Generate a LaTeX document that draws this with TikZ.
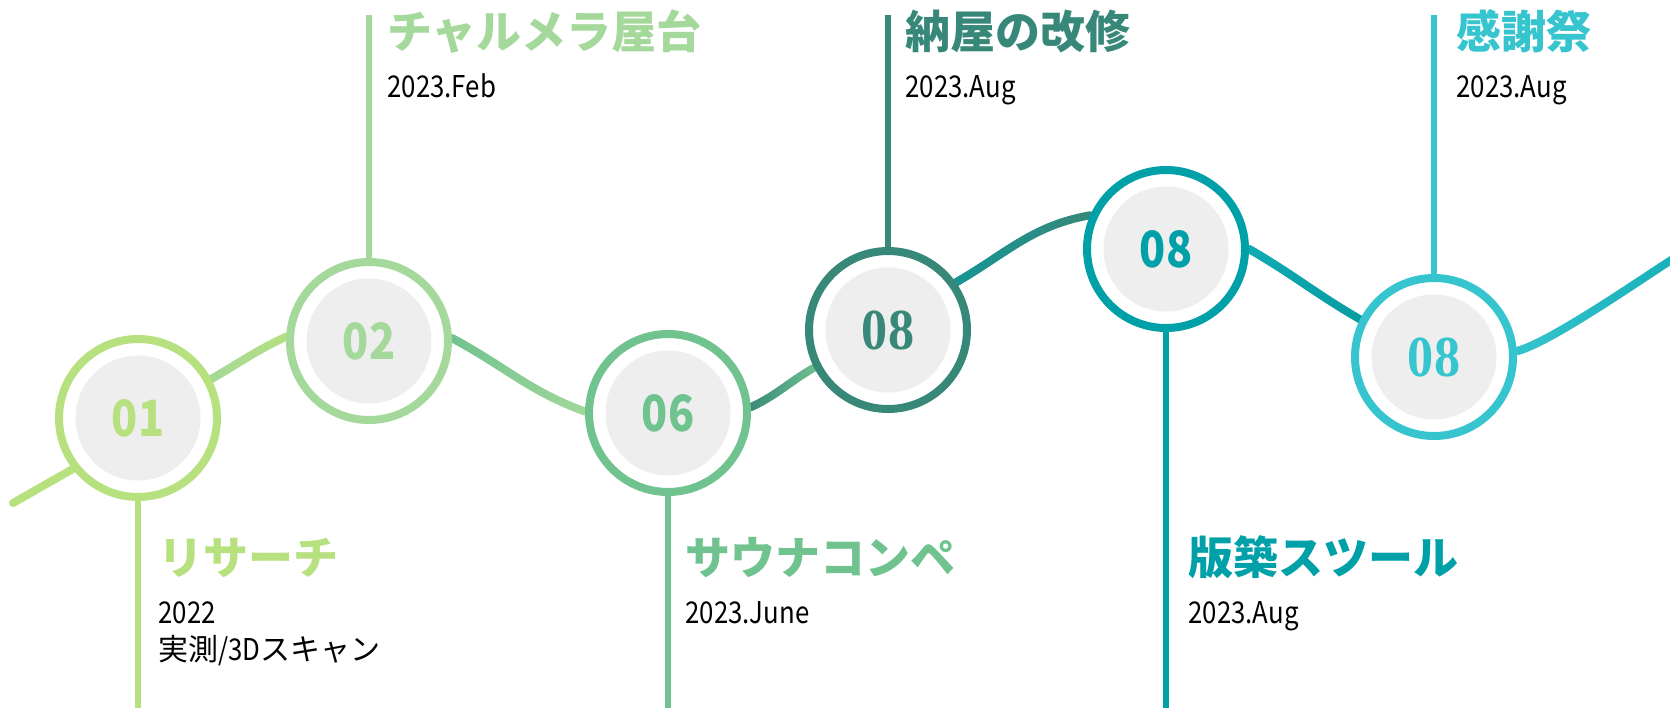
\documentclass[tikz,border=0pt]{standalone}
\usepackage{fontspec}
\usetikzlibrary{fadings,backgrounds}
\setmainfont{Noto Sans CJK JP}
\newfontfamily\jpfont{Noto Sans CJK JP}
\newfontfamily\condfont[FakeStretch=0.86]{Noto Sans CJK JP}
\newfontfamily\serfont[FakeStretch=0.9]{Liberation Serif}
\definecolor{colA}{HTML}{B7E07F}
\definecolor{colB}{HTML}{A4D99B}
\definecolor{colC}{HTML}{70C28F}
\definecolor{colD}{HTML}{38887A}
\definecolor{colE}{HTML}{00A0A8}
\definecolor{colF}{HTML}{36C5CF}
\definecolor{ringgray}{HTML}{EEEEEE}

\begin{document}
\begin{tikzpicture}[x=0.5pt,y=-0.5pt,
    ring/.style={circle, draw=#1, line width=4pt, fill=white, minimum size=79pt, text=#1,
        font=\condfont\bfseries\fontsize{25pt}{25pt}\selectfont,
        path picture={\fill[ringgray] (path picture bounding box.center) circle (31.25pt);}},
    serifnum/.style={font=\serfont\bfseries\fontsize{29pt}{29pt}\selectfont},
    stem/.style={draw=#1, line width=3pt},
    wave/.style={line width=4pt, line cap=round},
    title/.style={anchor=base west, text=#1, font=\bfseries\fontsize{22.5pt}{27pt}\selectfont},
    date/.style={anchor=base west, font=\condfont\fontsize{15pt}{18pt}\selectfont}]
    \tikzstyle{every node}+=[inner sep=0pt]
    \useasboundingbox (0,0) rectangle (1670,707);
    \node[ring=colA] (c1) at (138,418) {01};
    \node[ring=colB] (c2) at (369,341) {02};
    \node[ring=colC] (c6) at (668,413) {06};
    \node[ring=colD, serifnum] (c8a) at (888,330) {08};
    \node[ring=colE] (c8b) at (1166,249) {08};
    \node[ring=colF, serifnum] (c8c) at (1434,357) {08};
    \coordinate (s1) at (138,710);
    \coordinate (s2) at (369,15);
    \coordinate (s6) at (668,710);
    \coordinate (s8a) at (888,15);
    \coordinate (s8b) at (1166,710);
    \coordinate (s8c) at (1434,15);
    \coordinate (e1) at (13,503);
    \coordinate (e2) at (1676,257);
    \begin{scope}[on background layer]
        \draw[stem=colA] (c1) -- (s1);
        \draw[stem=colB] (c2) -- (s2);
        \draw[stem=colC] (c6) -- (s6);
        \draw[stem=colD] (c8a) -- (s8a);
        \draw[stem=colE] (c8b) -- (s8b);
        \draw[stem=colF] (c8c) -- (s8c);
        \draw[wave, colA] (e1) -- (c1.218);
        \draw[wave, colA] (c1.28) to[out=30,in=205] (c2.177);
        \draw[wave, colB, path fading=east] (c1.28) to[out=30,in=205] (c2.177);
        \draw[wave, colB] (c2.2) to[out=-28,in=160] (c6.179);
        \draw[wave, colC, path fading=east] (c2.2) to[out=-28,in=160] (c6.179);
        \draw[wave, colC] (c6.4) to[out=25,in=210] (c8a.207);
        \draw[wave, colD, path fading=east] (c6.4) to[out=25,in=210] (c8a.207);
        \draw[wave, colD] (c8a.35) to[out=30,in=190] (c8b.156);
        \draw[wave, colE!60!colD, path fading=east] (c8a.35) to[out=30,in=190] (c8b.156);
        \draw[wave, colE!85!colD] (c8b.0) to[out=-30,in=150] (c8c.153);
        \draw[wave, colE!70!colF, path fading=east] (c8b.0) to[out=-30,in=150] (c8c.153);
        \draw[wave, colE!60!colF] (c8c.4) to[out=15,in=212,looseness=0.5] (e2);
        \draw[wave, colF, path fading=east] (c8c.4) to[out=15,in=212,looseness=0.5] (e2);
    \end{scope}
    \node[title=colA] (t1) at (158,574) {リサーチ};
    \node[date] (d1) at (158,623) {2022};
    \node[date] (d1b) at (158,660) {{\jpfont 実測}/3D{\jpfont スキャン}};
    \node[title=colB] (t2) at (387,48) {チャルメラ屋台};
    \node[date] (d2) at (387,97) {2023.Feb};
    \node[title=colC] (t6) at (685,574) {サウナコンペ};
    \node[date] (d6) at (685,623) {2023.June};
    \node[title=colD] (t8a) at (905,48) {納屋の改修};
    \node[date] (d8a) at (905,97) {2023.Aug};
    \node[title=colE] (t8b) at (1188,574) {版築スツール};
    \node[date] (d8b) at (1188,623) {2023.Aug};
    \node[title=colF] (t8c) at (1456,48) {感謝祭};
    \node[date] (d8c) at (1456,97) {2023.Aug};
\end{tikzpicture}
\end{document}
